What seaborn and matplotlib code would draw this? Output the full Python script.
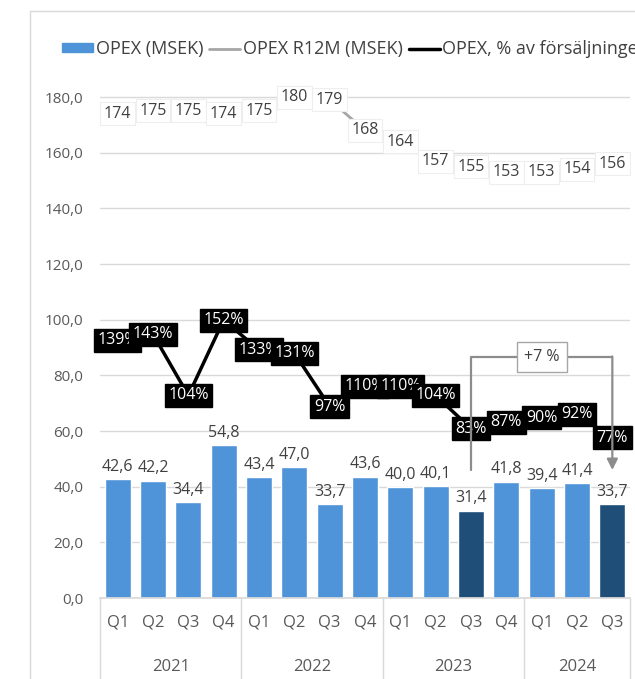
import matplotlib
matplotlib.use("Agg")
import matplotlib.pyplot as plt
import matplotlib.transforms as mtransforms
from matplotlib.patches import Patch
from matplotlib.lines import Line2D
import seaborn as sns
import pandas as pd

# Chart data
years = ["2021", "2022", "2023", "2024"]
quarters = ["Q1", "Q2", "Q3", "Q4",
            "Q1", "Q2", "Q3", "Q4",
            "Q1", "Q2", "Q3", "Q4",
            "Q1", "Q2", "Q3"]
year_of = ["2021"] * 4 + ["2022"] * 4 + ["2023"] * 4 + ["2024"] * 3
opex = [42.6, 42.2, 34.4, 54.8, 43.4, 47.0, 33.7, 43.6,
        40.0, 40.1, 31.4, 41.8, 39.4, 41.4, 33.7]
opex_r12m = [174, 175, 175, 174, 175, 180, 179, 168,
             164, 157, 155, 153, 153, 154, 156]
opex_pct = [139, 143, 104, 152, 133, 131, 97, 110,
            110, 104, 83, 87, 90, 92, 77]
highlight = ["2023 Q3", "2024 Q3"]
change_label = "+7 %"
legend_labels = ["OPEX (MSEK)", "OPEX R12M (MSEK)", "OPEX, % av försäljningen"]

periods = [f"{y} {q}" for y, q in zip(year_of, quarters)]
df = pd.DataFrame({"period": periods, "opex": opex,
                   "r12m": opex_r12m, "pct": opex_pct})

light_blue = "#4F94D8"
dark_blue = "#1F4E79"
grey_line = "#A6A6A6"
grid_col = "#D9D9D9"
text_col = "#404040"

sns.set_theme(style="white")
plt.rcParams["font.family"] = ["Open Sans", "DejaVu Sans"]

fig = plt.figure(figsize=(6.35, 6.79), dpi=100)
ymax = 190
ax = fig.add_axes([100 / 635, 81 / 679, 530 / 635, 528.8 / 679])

palette = {p: (dark_blue if p in highlight else light_blue) for p in periods}
sns.barplot(data=df, x="period", y="opex", hue="period", palette=palette,
            legend=False, width=0.74, saturation=1, ax=ax)

ax.set_ylim(0, ymax)
ax.set_xlim(-0.5, len(periods) - 0.5)
ax.set_yticks(range(0, 181, 20))
ax.set_yticklabels([f"{v:.1f}".replace(".", ",") for v in range(0, 181, 20)],
                   fontsize=11, color="#595959")
ax.set_xticks(range(len(periods)))
ax.set_xticklabels(quarters, fontsize=12, color="#595959")
ax.tick_params(axis="x", length=0, pad=12)
ax.tick_params(axis="y", length=0, pad=12)
ax.set_xlabel("")
ax.set_ylabel("")
ax.yaxis.grid(True, color=grid_col, lw=1)
ax.set_axisbelow(True)
for s in ["top", "right", "left"]:
    ax.spines[s].set_visible(False)
ax.spines["bottom"].set_color(grid_col)

# bar value labels
for i, v in enumerate(opex):
    ax.annotate(f"{v:.1f}".replace(".", ","), (i, v), xytext=(0, 3),
                textcoords="offset points", ha="center", va="bottom",
                fontsize=11.5, color=text_col)

# rolling 12 month line
ax.plot(range(len(periods)), opex_r12m, color=grey_line, lw=2, zorder=3)
for i, v in enumerate(opex_r12m):
    ax.text(i, v, f"{v}", ha="center", va="center", fontsize=11.5,
            color=text_col, zorder=4,
            bbox=dict(boxstyle="square,pad=0.22", fc="white", ec="#EEEEEE", lw=0.8))

# percent of sales on hidden secondary scale
a, b = 14.0, 0.565
ax2 = ax.twinx()
ax2.set_ylim((0 - a) / b, (ymax - a) / b)
ax2.axis("off")
ax2.plot(range(len(periods)), opex_pct, color="black", lw=2.5, zorder=2)
for i, v in enumerate(opex_pct):
    ax2.text(i, v, f"{v}%", ha="center", va="center", fontsize=11.5,
             color="white", zorder=3,
             bbox=dict(boxstyle="square,pad=0.22", fc="black", ec="black"))

# change bracket between the highlighted quarters
i0, i1 = periods.index(highlight[0]), periods.index(highlight[1])
y_low, y_top = 46, 86.5
ax2.plot([i0, i0, i1], [y_low, y_top, y_top], color="#8C8C8C", lw=1.6,
         transform=ax.transData, zorder=5)
ax2.annotate("", xy=(i1, y_low), xytext=(i1, y_top + 0.3),
             xycoords=ax.transData, textcoords=ax.transData,
             arrowprops=dict(arrowstyle="-|>", color="#8C8C8C", lw=1.6,
                             mutation_scale=16, shrinkA=0, shrinkB=0), zorder=5)
ax2.text((i0 + i1) / 2, y_top, change_label, transform=ax.transData,
         ha="center", va="center", fontsize=11.5, color=text_col, zorder=6,
         bbox=dict(boxstyle="square,pad=0.45", fc="white", ec="#A6A6A6", lw=1))

# year groups below quarter labels
trans = mtransforms.blended_transform_factory(ax.transData, ax.transAxes)
bottom = -81 / 528.8
bounds = [-0.5, 3.5, 7.5, 11.5, len(periods) - 0.5]
for xb in bounds:
    ax.plot([xb, xb], [0, bottom], color=grid_col, lw=1, transform=trans,
            clip_on=False)
for k, y in enumerate(years):
    ax.text((bounds[k] + bounds[k + 1]) / 2, -0.13, y, transform=trans,
            ha="center", va="center", fontsize=12, color="#595959")

# outer chart frame
fig.add_artist(Line2D([30 / 635, 30 / 635], [0, 1 - 11 / 679],
                      color=grid_col, lw=1, transform=fig.transFigure))
fig.add_artist(Line2D([30 / 635, 1], [1 - 11 / 679, 1 - 11 / 679],
                      color=grid_col, lw=1, transform=fig.transFigure))

handles = [Patch(color=light_blue),
           Line2D([], [], color=grey_line, lw=2),
           Line2D([], [], color="black", lw=2.5)]
fig.legend(handles, legend_labels, loc="upper left",
           bbox_to_anchor=(46 / 635, 1 - 24 / 679), ncol=3, frameon=False,
           fontsize=13, handlelength=1.7, handleheight=0.4,
           handletextpad=0.15, columnspacing=0.35, labelcolor="#404040")

fig.savefig("out.png", dpi=100)
